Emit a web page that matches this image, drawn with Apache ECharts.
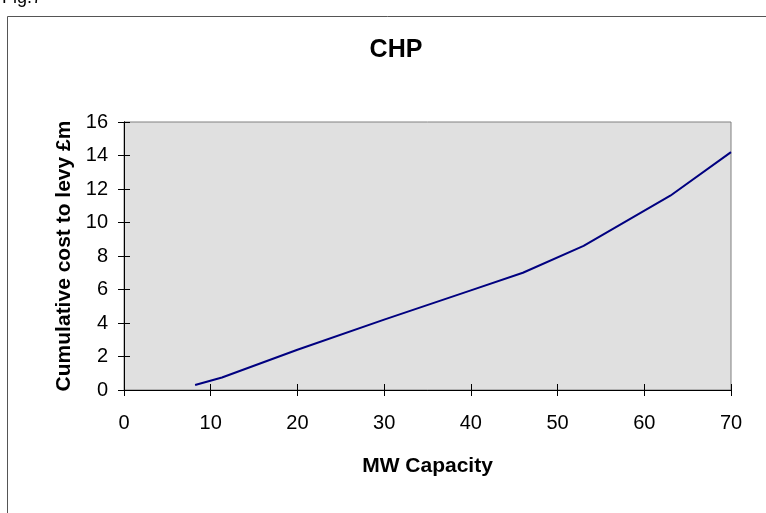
<!DOCTYPE html>
<html><head><meta charset="utf-8">
<script src="https://cdn.jsdelivr.net/npm/echarts@6/dist/echarts.min.js"></script>
<style>html,body{margin:0;padding:0;background:#fff}#c{width:766px;height:513px}</style>
</head><body><div id="c"></div>
<script>
const capacityMW = [8.2, 11.3, 20, 30, 40, 46, 53, 63, 70];
const cumulativeCost = [0.3, 0.75, 2.4, 4.2, 5.95, 7.0, 8.6, 11.6, 14.2];
const titleText = 'CHP';
const xName = 'MW Capacity';
const yName = 'Cumulative cost to levy £m';
const figText = 'Fig.7';

const chart = echarts.init(document.getElementById('c'));
const font = 'Arial, "Liberation Sans", sans-serif';
const data = capacityMW.map((x, i) => [x, cumulativeCost[i]]);
const axisCommon = {
  axisLine: {show: true, onZero: false, lineStyle: {color: '#000', width: 1}},
  splitLine: {show: false}
};
chart.setOption({
  animation: false,
  title: {text: titleText, left: 391, top: 33, textAlign: 'center',
    textStyle: {fontFamily: font, fontSize: 25, fontWeight: 'bold', color: '#000'}},
  graphic: [
    {type: 'rect', shape: {x: 7.5, y: 16.5, width: 800, height: 600}, style: {fill: 'none', stroke: '#555', lineWidth: 1}, z: -10},
    {type: 'text', left: 2, top: -11, style: {text: figText, font: '18px ' + font, fill: '#000'}}
  ],
  grid: {left: 124, right: 35, top: 122, bottom: 123, show: true, backgroundColor: '#e0e0e0', borderColor: '#808080', borderWidth: 1},
  xAxis: [
    Object.assign({type: 'value', min: 0, max: 70, interval: 10,
      name: xName, nameLocation: 'middle', nameGap: 66,
      nameTextStyle: {fontFamily: font, fontSize: 21, fontWeight: 'bold', color: '#000'},
      axisTick: {show: true, length: 6, lineStyle: {color: '#000'}},
      axisLabel: {fontFamily: font, fontSize: 20, color: '#000', margin: 23}}, axisCommon),
    Object.assign({type: 'value', min: 0, max: 70, interval: 10, position: 'bottom',
      axisTick: {show: true, inside: true, length: 6, lineStyle: {color: '#000'}},
      axisLabel: {show: false}}, axisCommon)
  ],
  yAxis: [
    Object.assign({type: 'value', min: 0, max: 16, interval: 2,
      name: yName, nameLocation: 'middle', nameGap: 49, nameRotate: 90,
      nameTextStyle: {fontFamily: font, fontSize: 21, fontWeight: 'bold', color: '#000'},
      axisTick: {show: true, length: 6, lineStyle: {color: '#000'}},
      axisLabel: {fontFamily: font, fontSize: 20, color: '#000', margin: 16}}, axisCommon),
    Object.assign({type: 'value', min: 0, max: 16, interval: 2, position: 'left',
      axisTick: {show: true, inside: true, length: 6, lineStyle: {color: '#000'}},
      axisLabel: {show: false}}, axisCommon)
  ],
  series: [{
    type: 'line', data: data, xAxisIndex: 0, yAxisIndex: 0,
    showSymbol: false, symbol: 'none',
    lineStyle: {color: '#000080', width: 2}
  }]
});
</script></body></html>
